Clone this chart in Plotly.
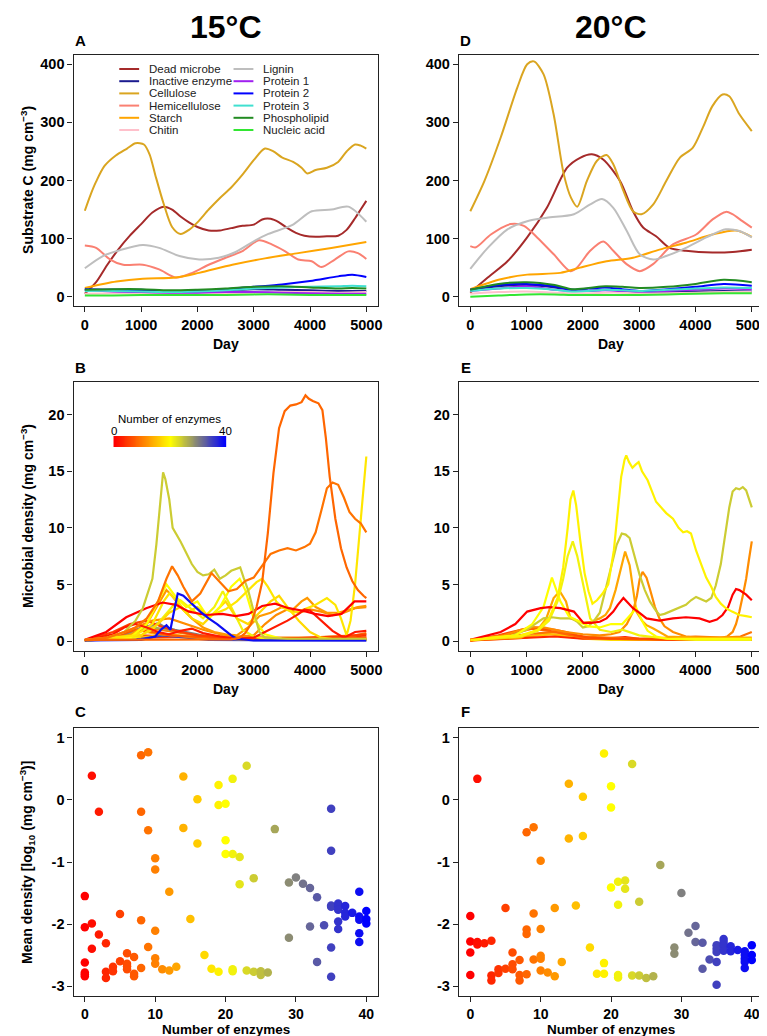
import plotly.graph_objects as go

# ---------------- DATA ----------------
SUB_NAMES = ["Dead microbe", "Inactive enzyme", "Cellulose", "Hemicellulose", "Starch", "Chitin",
             "Lignin", "Protein 1", "Protein 2", "Protein 3", "Phospholipid", "Nucleic acid"]
SUB_COLORS = ["#A52A2A", "#1B1B8F", "#DAA520", "#FA8072", "#FFA500", "#FFC0CB",
              "#BEBEBE", "#A020F0", "#0000FF", "#40E0D0", "#228B22", "#32E632"]

S15 = [0, 500, 1000, 1500, 2000, 2500, 3000, 3500, 4000, 4500, 5000]
P15 = [0, 500, 1000, 1500, 2000, 2500, 3000, 3500, 4000, 4500, 4750, 5000]
A15_DAYS = [
    [0, 200, 400, 600, 800, 1000, 1200, 1400, 1550, 1700, 1850, 2000, 2200, 2400, 2600, 2800, 3000, 3150, 3300,
     3450, 3600, 3750, 3900, 4100, 4300, 4500, 4650, 4800, 4900, 5000],
    S15,
    [0, 100, 200, 350, 550, 750, 900, 1050, 1150, 1250, 1400, 1550, 1700, 1850, 2000, 2200, 2400, 2600, 2800,
     3000, 3200, 3350, 3500, 3700, 3850, 3950, 4100, 4300, 4500, 4650, 4800, 4900, 5000],
    [0, 200, 450, 680, 1030, 1320, 1620, 1910, 2200, 2500, 2790, 3090, 3320, 3560, 3790, 4030, 4200, 4440, 4680,
     4850, 5000],
    [0, 560, 1030, 1620, 2030, 2620, 3200, 3790, 4380, 5000],
    S15,
    [0, 320, 620, 1030, 1320, 1680, 2030, 2380, 2680, 3030, 3260, 3680, 4030, 4380, 4680, 5000],
    S15, P15, P15, P15, S15,
]
A15_VALS = [
    [5, 25, 55, 82, 105, 125, 145, 155, 150, 138, 128, 120, 114, 114, 118, 122, 124, 133, 134, 128, 118, 110, 105,
     103, 104, 105, 115, 135, 150, 165],
    [12, 12, 11, 9, 10, 11, 13, 12, 11, 10, 10],
    [148, 175, 198, 225, 243, 255, 264, 262, 245, 210, 160, 120, 108, 115, 128, 150, 170, 188, 210, 235, 255, 250,
     240, 232, 222, 212, 218, 222, 232, 250, 262, 260, 255],
    [88, 84, 64, 55, 55, 47, 33, 41, 55, 67, 78, 97, 90, 78, 64, 61, 51, 64, 78, 75, 65],
    [15, 26, 31, 33, 41, 55, 66, 75, 84, 94],
    [5, 6, 6, 5, 5, 6, 7, 8, 8, 7, 8],
    [49, 70, 80, 89, 84, 70, 64, 67, 77, 97, 108, 123, 147, 150, 155, 129],
    [12, 9, 8, 7, 7, 8, 8, 7, 6, 5, 5],
    [13, 12, 12, 9, 10, 13, 17, 21, 27, 35, 38, 34],
    [10, 10, 9, 8, 9, 11, 14, 16, 17, 18, 19, 18],
    [12, 13, 13, 11, 12, 14, 17, 18, 16, 14, 15, 14],
    [2, 2, 3, 3, 3, 3, 4, 4, 3, 3, 3],
]

T20 = [0, 500, 1000, 1500, 1800, 2100, 2400, 2700, 3000, 3500, 4000, 4500, 5000]
D20_DAYS = [
    [0, 310, 660, 1010, 1360, 1720, 1950, 2160, 2360, 2660, 2890, 3070, 3300, 3540, 3830, 4300, 4660, 5000],
    T20,
    [0, 250, 540, 835, 1010, 1130, 1300, 1480, 1660, 1790, 1900, 2070, 2250, 2420, 2540, 2720, 2890, 3040, 3250,
     3480, 3720, 3950, 4130, 4300, 4480, 4600, 4780, 5000],
    [0, 100, 365, 717, 952, 1187, 1482, 1776, 1893, 2129, 2364, 2540, 2776, 3011, 3246, 3599, 4011, 4304, 4540,
     4657, 4834, 5000],
    [0, 540, 1010, 1600, 1950, 2420, 2890, 3360, 3830, 4300, 4720, 5000],
    T20,
    [0, 310, 660, 1010, 1360, 1840, 2130, 2340, 2540, 2780, 3010, 3250, 3480, 3830, 4190, 4540, 4780, 5000],
    T20, T20, T20, T20, T20,
]
D20_VALS = [
    [7, 33, 61, 102, 153, 222, 239, 245, 236, 199, 147, 119, 104, 84, 79, 76, 77, 81],
    [12, 18, 20, 16, 12, 10, 12, 10, 7, 8, 9, 10, 9],
    [147, 199, 274, 360, 400, 405, 383, 314, 211, 170, 155, 199, 234, 244, 228, 182, 147, 142, 159, 199, 239, 256,
     291, 328, 348, 345, 314, 285],
    [87, 85, 107, 125, 122, 102, 73, 44, 50, 79, 95, 79, 56, 44, 56, 90, 107, 133, 146, 142, 130, 119],
    [13, 30, 38, 41, 50, 61, 67, 81, 93, 107, 114, 103],
    [5, 8, 9, 7, 6, 6, 7, 7, 6, 6, 7, 8, 8],
    [48, 84, 116, 130, 136, 142, 159, 168, 153, 113, 73, 64, 70, 84, 102, 116, 113, 102],
    [10, 14, 18, 12, 10, 10, 11, 10, 9, 10, 12, 14, 13],
    [12, 20, 22, 18, 12, 14, 16, 13, 10, 13, 17, 22, 19],
    [10, 14, 15, 12, 9, 10, 12, 11, 10, 12, 14, 16, 15],
    [12, 22, 25, 20, 13, 15, 18, 17, 15, 17, 22, 29, 25],
    [0, 2, 4, 4, 3, 3, 3, 3, 3, 4, 5, 6, 6],
]

# Microbial density lines, 15 C (enzyme number, days, values)
B15_ENZ = [3, 6, 16, 35, 14, 10, 27, 30, 7, 5, 11, 12, 21, 17, 20, 18, 2, 0, 39, 24, 9, 8]
B15_DAYS = [
    [0, 1000, 2000, 3000, 4000, 4500, 5000],
    [0, 500, 1000, 2000, 3000, 4000, 5000],
    [0, 1000, 1500, 2000, 3000, 4000, 5000],
    [0, 1000, 1400, 1800, 2200, 5000],
    [0, 700, 1000, 1300, 1600, 2000, 2500, 3000, 4000, 5000],
    [0, 800, 1200, 1600, 2000, 3000, 4000, 4800, 5000],
    [0, 600, 900, 1200, 1500, 1800, 2100, 2500, 5000],
    [0, 700, 1000, 1200, 1300, 1400, 1600, 1800, 2000, 2300, 5000],
    [0, 600, 900, 1200, 1500, 1800, 2200, 2600, 3000, 4000, 5000],
    [0, 500, 800, 1100, 1400, 1700, 2000, 2500, 3000, 3500, 4000, 4500, 5000],
    [0, 600, 900, 1200, 1500, 1800, 2100, 2400, 2700, 3000, 3200, 3400, 3600, 3800, 4000, 4200, 4400, 4600, 4800, 5000],
    [0, 800, 1100, 1300, 1450, 1550, 1700, 1900, 2100, 2300, 2500, 2700, 2900, 3100, 3300, 3500, 3700, 3850, 3950,
     4100, 4300, 4500, 4700, 4850, 5000],
    [0, 900, 1200, 1400, 1600, 1700, 1900, 2100, 2300, 2450, 2600, 2800, 3000, 3200, 3400, 3600, 4000, 5000],
    [0, 1000, 1300, 1500, 1700, 1900, 2100, 2300, 2500, 2700, 2900, 3100, 3300, 3450, 3600, 3800, 4000, 4200, 4500, 5000],
    [0, 800, 1100, 1300, 1450, 1600, 1800, 2000, 2200, 2400, 2600, 2750, 2850, 3000, 3200, 3500, 4000, 4500, 5000],
    [0, 900, 1200, 1400, 1500, 1650, 1800, 2000, 2200, 2500, 2700, 2900, 3050, 3150, 3250, 3400, 3500, 3700, 3900,
     4100, 4300, 4450, 4550, 4650, 4720, 4800, 4870, 4930, 5000],
    [0, 500, 700, 900, 1100, 1300, 1500, 1700, 1900, 2100, 2400, 2700, 3000, 3200, 3400, 3600, 3800, 3900, 4000, 4200,
     4400, 4600, 4800, 5000],
    [0, 380, 735, 1090, 1380, 1620, 1850, 2150, 2440, 2680, 2910, 3150, 3380, 3620, 3850, 4090, 4320, 4560, 4790, 5000],
    [0, 1000, 1250, 1350, 1450, 1520, 1580, 1650, 1750, 1900, 2050, 2200, 2350, 2500, 2600, 2700, 3000, 5000],
    [0, 400, 700, 900, 1030, 1120, 1200, 1270, 1330, 1390, 1430, 1500, 1560, 1620, 1700, 1800, 1900, 2000, 2100, 2200,
     2300, 2400, 2500, 2600, 2700, 2760, 2820, 2900, 3000, 3100, 3200, 3600, 4000, 4500, 5000],
    [0, 400, 700, 900, 1100, 1300, 1450, 1550, 1650, 1750, 1900, 2050, 2250, 2400, 2550, 2700, 2850, 3000, 3150, 3300,
     3450, 3600, 3750, 3900, 4000, 4100, 4200, 4300, 4400, 4500, 4600, 4700, 4800, 4900, 5000],
    [0, 1000, 2000, 2600, 2750, 2850, 2950, 3050, 3150, 3250, 3350, 3450, 3550, 3650, 3750, 3850, 3920, 3980, 4050,
     4150, 4220, 4280, 4350, 4450, 4550, 4650, 4750, 4850, 4950, 5000],
]
B15_VALS = [
    [0.05, 0.3, 0.4, 0.3, 0.2, 0.3, 0.5],
    [0.05, 0.3, 0.5, 0.3, 0.2, 0.2, 0.3],
    [0.05, 0.3, 0.6, 0.3, 0.2, 0.1, 0.2],
    [0.05, 0.2, 0.5, 0.3, 0.1, 0.05],
    [0.05, 0.4, 0.9, 0.6, 0.5, 0.3, 0.2, 0.1, 0.1, 0.15],
    [0.05, 0.7, 1.1, 0.8, 0.5, 0.3, 0.3, 0.5, 0.7],
    [0.05, 0.4, 0.9, 1.2, 1.0, 0.7, 0.4, 0.2, 0.1],
    [0.05, 0.6, 1.2, 1.4, 1.6, 1.3, 1.0, 0.8, 0.6, 0.2, 0.1],
    [0.05, 0.5, 1.0, 0.8, 0.5, 0.4, 0.3, 0.2, 0.15, 0.15, 0.3],
    [0.05, 0.8, 1.5, 1.8, 1.2, 0.8, 0.5, 0.3, 0.2, 0.2, 0.3, 0.4, 0.6],
    [0.05, 0.6, 1.2, 1.8, 2.0, 1.5, 1.0, 0.6, 0.4, 0.5, 1.5, 2.3, 2.8, 2.5, 2.8, 2.6, 2.3, 2.5, 2.9, 3.0],
    [0.05, 0.5, 1.5, 3.2, 4.5, 4.0, 3.0, 2.0, 1.2, 0.8, 0.6, 0.5, 1.2, 2.2, 2.5, 3.0, 2.8, 3.5, 3.8, 3.0, 2.5, 2.5,
     2.8, 3.0, 3.1],
    [0.05, 0.3, 1.0, 2.2, 3.3, 3.6, 2.8, 2.0, 3.0, 4.4, 3.0, 1.0, 0.4, 0.2, 0.1, 0.1, 0.1, 0.1],
    [0.05, 0.5, 1.5, 2.5, 3.0, 2.0, 1.5, 2.5, 3.5, 2.0, 1.5, 2.5, 3.5, 4.0, 3.0, 1.8, 0.8, 0.3, 0.1, 0.1],
    [0.05, 0.3, 1.5, 3.5, 5.0, 4.0, 3.0, 3.5, 2.0, 3.0, 4.8, 5.5, 4.5, 2.0, 0.6, 0.2, 0.1, 0.1, 0.1],
    [0.05, 0.5, 1.5, 3.5, 4.2, 3.5, 2.5, 3.0, 2.2, 2.8, 3.5, 4.5, 5.2, 5.5, 4.8, 3.5, 3.0, 2.5, 2.8, 3.2, 3.8, 3.2,
     2.0, 0.5, 1.8, 5.0, 9.0, 12.5, 16.3],
    [0.05, 0.6, 1.2, 1.5, 1.2, 0.8, 0.6, 0.9, 1.1, 0.7, 0.4, 0.2, 0.3, 0.8, 1.3, 1.8, 2.4, 2.8, 2.7, 1.8, 0.9, 0.3,
     0.8, 0.9],
    [0.1, 0.8, 2.1, 2.9, 3.4, 3.2, 2.6, 2.3, 2.4, 2.2, 2.4, 3.1, 3.3, 2.9, 2.7, 2.4, 2.2, 2.4, 3.5, 3.5],
    [0.05, 0.1, 0.4, 1.0, 1.4, 1.0, 2.5, 4.2, 4.0, 3.3, 2.6, 2.0, 1.5, 0.9, 0.5, 0.2, 0.05, 0.05],
    [0.1, 0.3, 0.8, 1.8, 2.9, 4.2, 5.5, 8.5, 11.5, 14.9, 14.3, 12.5, 10.0, 9.5, 8.8, 7.8, 6.8, 6.1, 5.8, 5.9, 6.3,
     5.5, 5.8, 6.2, 6.4, 6.5, 5.6, 4.5, 2.6, 0.8, 0.3, 0.2, 0.2, 0.2, 0.2],
    [0.1, 0.3, 0.8, 1.2, 2.0, 3.5, 5.5, 6.6, 5.8, 4.8, 3.5, 4.2, 6.0, 5.2, 4.4, 4.6, 5.3, 5.6, 6.6, 7.7, 8.0, 8.2,
     8.0, 8.3, 8.6, 9.6, 11.5, 13.5, 14.0, 13.8, 12.7, 11.4, 10.8, 10.4, 9.6],
    [0.1, 0.1, 0.1, 0.15, 0.3, 0.7, 1.5, 3.0, 5.2, 9.5, 14.8, 18.8, 20.3, 20.8, 20.9, 21.1, 21.7, 21.4, 21.2, 21.0,
     20.4, 18.0, 14.5, 10.8, 8.2, 6.5, 5.3, 4.5, 4.0, 3.8],
]

# Microbial density lines, 20 C
E20_ENZ = [17, 15, 3, 9, 8, 6, 11, 13, 21, 24, 20, 0, 19]
E20_DAYS = [
    [0, 1000, 1300, 1600, 2000, 2500, 5000],
    [0, 1000, 1500, 2000, 3000, 5000],
    [0, 1000, 1500, 2000, 2500, 2750, 3000, 3500, 4000, 5000],
    [0, 1000, 1500, 2000, 3000, 4000, 4500, 4800, 5000],
    [0, 700, 1100, 1400, 1700, 2000, 2500, 3000, 4000, 5000],
    [0, 500, 900, 1100, 1300, 1500, 1700, 1900, 2100, 2500, 3000, 4000, 5000],
    [0, 600, 900, 1100, 1300, 1500, 1700, 2000, 2300, 2500, 2650, 2780, 2890, 2960, 3010, 3060, 3130, 3190, 3280,
     3360, 3450, 3600, 3830, 4070, 4420, 4560, 4660, 4720, 4780, 4840, 4900, 4950, 5000],
    [0, 900, 1200, 1350, 1480, 1590, 1700, 1780, 1900, 2010, 2150, 2300, 2400, 2480, 2580, 2660, 2750, 2830, 2900,
     2950, 3050, 3130, 3250, 3360, 3500, 4000, 4500, 5000],
    [0, 900, 1200, 1400, 1550, 1650, 1730, 1820, 1900, 1980, 2050, 2130, 2300, 2500, 2700, 3000, 3500, 4000, 5000],
    [0, 700, 1000, 1300, 1450, 1600, 1800, 1900, 2000, 2100, 2200, 2300, 2420, 2500, 2600, 2690, 2760, 2830, 2900,
     3010, 3100, 3190, 3280, 3360, 3450, 3540, 3650, 3830, 3920, 4010, 4100, 4190, 4280, 4360, 4450, 4540, 4600,
     4660, 4720, 4780, 4840, 4900, 4950, 5000],
    [0, 800, 1100, 1300, 1450, 1600, 1750, 1900, 2100, 2300, 2500, 2700, 2850, 2950, 3050, 3150, 3300, 3500, 4000, 5000],
    [0, 540, 800, 1010, 1250, 1400, 1600, 1840, 2010, 2150, 2300, 2420, 2540, 2620, 2720, 2800, 2890, 3000, 3130,
     3360, 3600, 3830, 4070, 4250, 4380, 4480, 4580, 4660, 4720, 4780, 4850, 4900, 5000],
    [0, 900, 1200, 1400, 1550, 1650, 1730, 1780, 1830, 1880, 1950, 2030, 2100, 2170, 2250, 2350, 2450, 2550, 2620,
     2680, 2740, 2770, 2820, 2880, 2940, 2990, 3050, 3150, 3300, 3480, 3600, 3700, 3780, 3850, 3920, 4010, 4100,
     4190, 4280, 4360, 4450, 4540, 4650, 4780, 4900, 5000],
]
E20_VALS = [
    [0.05, 0.3, 0.7, 0.5, 0.2, 0.1, 0.1],
    [0.05, 0.4, 0.6, 0.3, 0.1, 0.2],
    [0.05, 0.3, 0.4, 0.2, 0.25, 0.35, 0.2, 0.1, 0.1, 0.1],
    [0.05, 0.6, 0.8, 0.4, 0.2, 0.4, 0.3, 0.4, 0.8],
    [0.05, 0.6, 1.1, 0.9, 0.6, 0.3, 0.2, 0.15, 0.15, 0.2],
    [0.05, 0.5, 1.0, 1.2, 1.1, 1.0, 0.8, 0.5, 0.3, 0.2, 0.2, 0.1, 0.1],
    [0.1, 0.5, 1.0, 1.2, 1.2, 1.0, 0.8, 0.6, 0.5, 0.6, 0.8, 1.5, 2.6, 4.0, 5.5, 6.1, 5.6, 4.6, 3.0, 2.0, 1.3, 0.8,
     0.4, 0.25, 0.25, 0.4, 0.8, 1.5, 2.6, 4.0, 5.5, 7.2, 8.8],
    [0.1, 0.3, 1.0, 2.0, 3.8, 4.4, 3.5, 2.0, 1.8, 1.6, 1.7, 2.0, 2.3, 2.9, 4.5, 6.1, 7.9, 6.7, 4.5, 2.6, 1.8, 1.4,
     1.1, 0.8, 0.4, 0.3, 0.3, 0.3],
    [0.1, 0.4, 0.9, 1.8, 3.5, 5.5, 7.5, 8.8, 7.5, 5.5, 4.0, 2.0, 1.0, 0.8, 1.0, 0.5, 0.2, 0.1, 0.1],
    [0.1, 0.4, 1.0, 2.0, 2.1, 2.0, 2.0, 1.7, 1.2, 1.3, 1.8, 2.5, 4.9, 6.5, 8.5, 9.5, 9.4, 9.1, 7.8, 5.8, 4.5, 3.5,
     2.8, 2.3, 2.4, 2.6, 2.8, 3.2, 3.6, 3.9, 3.7, 3.5, 3.8, 4.9, 6.8, 9.9, 11.8, 13.2, 13.5, 13.4, 13.6, 13.3,
     12.6, 11.8],
    [0.1, 0.5, 1.5, 3.0, 5.6, 3.5, 2.2, 1.8, 1.3, 1.2, 1.5, 1.5, 2.3, 2.9, 1.8, 0.9, 0.4, 0.2, 0.2, 0.2],
    [0.1, 0.8, 1.5, 2.6, 2.9, 3.0, 2.9, 2.6, 1.6, 1.6, 1.7, 2.0, 2.6, 3.2, 3.8, 3.4, 2.9, 2.5, 2.0, 1.8, 2.0, 2.1,
     2.0, 1.7, 1.9, 2.3, 3.0, 4.1, 4.6, 4.5, 4.3, 4.1, 3.6],
    [0.1, 0.5, 1.0, 2.0, 3.8, 6.5, 10.0, 12.5, 13.3, 12.0, 9.0, 6.0, 4.4, 3.3, 3.6, 4.2, 5.0, 8.0, 11.5, 14.5, 16.0,
     16.4, 15.8, 15.3, 15.6, 15.8, 15.0, 14.2, 12.3, 11.3, 10.8, 10.0, 9.6, 9.7, 9.5, 8.0, 6.8, 5.6, 4.8, 3.9, 3.3,
     2.9, 2.6, 2.3, 2.2, 2.1],
]

# Mean density scatter (number of enzymes, log10 density)
C15_ENZ = [0, 0, 0, 0, 0, 0, 1, 1, 1, 2, 2, 3, 3, 3, 4, 4, 5, 5, 6, 6, 6, 6, 7, 7, 7, 8, 8, 8, 8, 9, 9, 9,
           10, 10, 10, 10, 10, 11, 12, 12, 13, 14, 14, 15, 16, 16, 17, 18, 19, 19, 19, 20, 20, 20, 21, 21, 21, 21,
           22, 22, 23, 23, 24, 24, 25, 25, 26, 27, 29, 29, 30, 31, 32, 32, 33, 33, 34, 35, 35, 35, 35, 35, 35,
           36, 36, 36, 36, 36, 37, 37, 37, 38, 39, 39, 39, 39, 39, 40, 40, 40]
C15_LOG = [-1.55, -2.05, -2.62, -2.78, -2.81, -2.84, 0.39, -1.99, -2.40, -0.19, -2.17, -2.31, -2.77, -2.87,
           -2.69, -2.76, -1.84, -2.60, -2.47, -2.64, -2.68, -2.73, -2.53, -2.80, -2.84, 0.72, -0.19, -1.94, -2.71,
           0.77, -0.49, -2.37, -0.94, -1.12, -2.11, -2.55, -2.64, -2.73, -1.48, -2.75, -2.69, 0.38, -0.45, -1.92,
           0.01, -0.70, -2.50, -2.72, 0.24, -0.08, -2.77, -0.06, -0.65, -0.87, 0.34, -0.87, -2.73, -2.76, -0.92,
           -1.36, 0.55, -2.75, -1.26, -2.77, -2.76, -2.82, -2.78, -0.47, -1.33, -2.22, -1.25, -1.35, -1.42, -2.04,
           -1.57, -2.61, -2.02, -0.14, -0.82, -1.70, -1.72, -2.38, -2.85, -1.67, -1.71, -1.77, -1.96, -2.08, -1.71,
           -1.82, -1.88, -1.82, -1.48, -1.88, -1.93, -2.15, -2.29, -1.79, -1.92, -1.99]
F20_ENZ = [0, 0, 0, 0, 1, 1, 1, 2, 3, 3, 3, 4, 4, 5, 5, 6, 6, 6, 7, 7, 7, 8, 8, 8, 8, 9, 9, 9, 10, 10, 10,
           10, 10, 11, 12, 12, 13, 14, 14, 15, 16, 16, 17, 18, 19, 19, 19, 20, 20, 20, 21, 21, 21, 21, 22, 22, 23,
           23, 24, 24, 25, 26, 27, 29, 29, 30, 31, 32, 32, 33, 33, 34, 35, 35, 35, 35, 35, 36, 36, 36, 36, 37,
           37, 38, 39, 39, 39, 39, 39, 40, 40, 40]
F20_LOG = [-1.87, -2.28, -2.46, -2.82, 0.34, -2.29, -2.33, -2.31, -2.27, -2.83, -2.91, -2.73, -2.79, -1.74,
           -2.72, -2.46, -2.65, -2.73, -2.58, -2.82, -2.91, -0.52, -2.09, -2.16, -2.81, -0.44, -1.83, -2.57, -0.98,
           -2.08, -2.51, -2.56, -2.75, -2.78, -1.74, -2.84, -2.61, 0.26, -0.62, -1.70, 0.05, -0.58, -2.38, -2.80,
           0.75, -2.63, -2.80, 0.22, -0.12, -1.41, -1.32, -1.69, -2.82, -2.86, -1.30, -1.43, 0.58, -2.83, -1.64,
           -2.83, -2.87, -2.84, -1.05, -2.38, -2.48, -1.50, -2.14, -2.03, -2.29, -2.30, -2.72, -2.57, -2.34, -2.40,
           -2.45, -2.61, -2.98, -2.24, -2.29, -2.35, -2.43, -2.36, -2.44, -2.42, -2.44, -2.50, -2.56, -2.61, -2.71,
           -2.34, -2.50, -2.58]

DAY_TICKS = [0, 1000, 2000, 3000, 4000, 5000]
SUB_TICKS = [0, 100, 200, 300, 400]
DENS_TICKS = [0, 5, 10, 15, 20]
LOG_TICKS = [-3, -2, -1, 0, 1]
LOG_LABELS = ["-3", "-2", "-1", "0", "1"]
ENZ_TICKS = [0, 10, 20, 30, 40]

# ---------------- STYLE HELPERS ----------------
W, H = 767, 1036
FONT = "Liberation Sans, Arial, Helvetica, sans-serif"


def ramp(n):
    t = n / 40.0
    if t <= 0.5:
        s = t / 0.5
        r, g, b = 255, 255 * s, 0
    else:
        s = (t - 0.5) / 0.5
        r, g, b = 255 * (1 - s), 255 * (1 - s), 255 * s
    return "rgb(%d,%d,%d)" % (round(r), round(g), round(b))


def xd(a, b):
    return [a / W, b / W]


def yd(top, bottom):
    return [1 - bottom / H, 1 - top / H]


LEFT = xd(66, 372)
RIGHT = xd(454, 760)
ROW_A = yd(47, 298)
ROW_B = yd(374, 643)
ROW_C = yd(720, 988)

fig = go.Figure()

# Substrate panels
for k, name in enumerate(SUB_NAMES):
    fig.add_trace(go.Scatter(x=A15_DAYS[k], y=A15_VALS[k], mode="lines", name=name,
                             line=dict(color=SUB_COLORS[k], width=2, shape="spline", smoothing=0.8),
                             xaxis="x", yaxis="y", hoverinfo="skip"))
    fig.add_trace(go.Scatter(x=D20_DAYS[k], y=D20_VALS[k], mode="lines", name=name,
                             line=dict(color=SUB_COLORS[k], width=2, shape="spline", smoothing=0.8),
                             xaxis="x4", yaxis="y4", hoverinfo="skip"))

# Microbial density panels
for n, dx, vy in zip(B15_ENZ, B15_DAYS, B15_VALS):
    fig.add_trace(go.Scatter(x=dx, y=vy, mode="lines", line=dict(color=ramp(n), width=2.2),
                             xaxis="x2", yaxis="y2", hoverinfo="skip"))
for n, dx, vy in zip(E20_ENZ, E20_DAYS, E20_VALS):
    fig.add_trace(go.Scatter(x=dx, y=vy, mode="lines", line=dict(color=ramp(n), width=2.2),
                             xaxis="x5", yaxis="y5", hoverinfo="skip"))

# Scatter panels
fig.add_trace(go.Scatter(x=C15_ENZ, y=C15_LOG, mode="markers",
                         marker=dict(size=8.5, color=[ramp(n) for n in C15_ENZ], line=dict(width=0)),
                         xaxis="x3", yaxis="y3", hoverinfo="skip"))
fig.add_trace(go.Scatter(x=F20_ENZ, y=F20_LOG, mode="markers",
                         marker=dict(size=8.5, color=[ramp(n) for n in F20_ENZ], line=dict(width=0)),
                         xaxis="x6", yaxis="y6", hoverinfo="skip"))

# Colour key (number of enzymes)
KEY_Z = [list(range(0, 41))]
fig.add_trace(go.Heatmap(z=KEY_Z, x=list(range(0, 41)), y=[0],
                         colorscale=[[0, "rgb(255,0,0)"], [0.5, "rgb(255,255,0)"], [1, "rgb(0,0,255)"]],
                         zmin=0, zmax=40, showscale=False, zsmooth="best",
                         xaxis="x7", yaxis="y7", hoverinfo="skip"))


def axis(domain, rng, tickvals, anchor, ticktext=None, size=14.5):
    d = dict(domain=domain, range=rng, anchor=anchor, showline=True, mirror=True,
             linecolor="#222222", linewidth=1.4, ticks="outside", ticklen=5, tickwidth=1.3,
             tickcolor="#222222", showgrid=False, zeroline=False, tickvals=tickvals,
             tickfont=dict(family=FONT, size=size, color="black", weight="bold"),
             fixedrange=True)
    if ticktext is not None:
        d["ticktext"] = ticktext
    return d


fig.update_layout(
    width=W, height=H, margin=dict(l=0, r=0, t=0, b=0),
    paper_bgcolor="white", plot_bgcolor="white", showlegend=False,
    font=dict(family=FONT, color="black"),
    xaxis=axis(LEFT, [-200, 5200], DAY_TICKS, "y"),
    yaxis=axis(ROW_A, [-16, 416], SUB_TICKS, "x"),
    xaxis2=axis(LEFT, [-200, 5200], DAY_TICKS, "y2"),
    yaxis2=axis(ROW_B, [-0.88, 22.88], DENS_TICKS, "x2"),
    xaxis3=axis(LEFT, [-1.6, 41.6], ENZ_TICKS, "y3", size=14),
    yaxis3=axis(ROW_C, [-3.16, 1.16], LOG_TICKS, "x3", LOG_LABELS),
    xaxis4=axis(RIGHT, [-200, 5200], DAY_TICKS, "y4"),
    yaxis4=axis(ROW_A, [-16, 416], SUB_TICKS, "x4"),
    xaxis5=axis(RIGHT, [-200, 5200], DAY_TICKS, "y5"),
    yaxis5=axis(ROW_B, [-0.88, 22.88], DENS_TICKS, "x5"),
    xaxis6=axis(RIGHT, [-1.6, 41.6], ENZ_TICKS, "y6", size=14),
    yaxis6=axis(ROW_C, [-3.16, 1.16], LOG_TICKS, "x6", LOG_LABELS),
    xaxis7=dict(domain=xd(106, 220), range=[-0.5, 40.5], visible=False, anchor="y7", fixedrange=True),
    yaxis7=dict(domain=yd(428, 439), range=[-0.5, 0.5], visible=False, anchor="x7", fixedrange=True),
)

ann = []


def text(xp, yp, s, size, bold=False, angle=0, xanchor="center", family=FONT, color="black"):
    ann.append(dict(x=xp / W, y=1 - yp / H, xref="paper", yref="paper", text=("<b>%s</b>" % s) if bold else s,
                    showarrow=False, xanchor=xanchor, yanchor="middle", textangle=angle,
                    font=dict(family=family, size=size, color=color)))


text(219, 19, "15°C", 32, bold=True)
text(607, 19, "20°C", 32, bold=True)

for lab, xp, yp in [("A", 73, 32), ("B", 73, 360), ("C", 73, 703),
                    ("D", 461, 32), ("E", 461, 360), ("F", 461, 703)]:
    text(xp, yp, lab, 15, bold=True)

for cx in (219, 607):
    text(cx, 336, "Day", 14, bold=True)
    text(cx, 681, "Day", 14, bold=True)
    text(cx, 1021, "Number of enzymes", 13.5, bold=True)

text(19, 172, "Substrate C (mg cm<sup>−3</sup>)", 14, bold=True, angle=-90)
text(19, 508, "Microbial density (mg cm<sup>−3</sup>)", 14, bold=True, angle=-90)
text(19, 854, "Mean density [log<sub>10</sub> (mg cm<sup>−3</sup>)]", 14, bold=True, angle=-90)

# Colour key labels
text(163, 411, "Number of enzymes", 11.5)
text(107, 423, "0", 11.5)
text(219, 423, "40", 11.5)

# Manual two-column legend for panel A
shapes = []
ROW_Y0, ROW_DY = 61, 12.2
for k, name in enumerate(SUB_NAMES):
    col, row = divmod(k, 6)
    yp = ROW_Y0 + row * ROW_DY
    x0 = 112 if col == 0 else 227
    shapes.append(dict(type="line", xref="paper", yref="paper", x0=x0 / W, x1=(x0 + 20) / W,
                       y0=1 - yp / H, y1=1 - yp / H, line=dict(color=SUB_COLORS[k], width=2)))
    text(x0 + 28, yp, name, 11.5, xanchor="left", color="#222222")

fig.update_layout(annotations=ann, shapes=shapes)
fig.write_html("out.html")
